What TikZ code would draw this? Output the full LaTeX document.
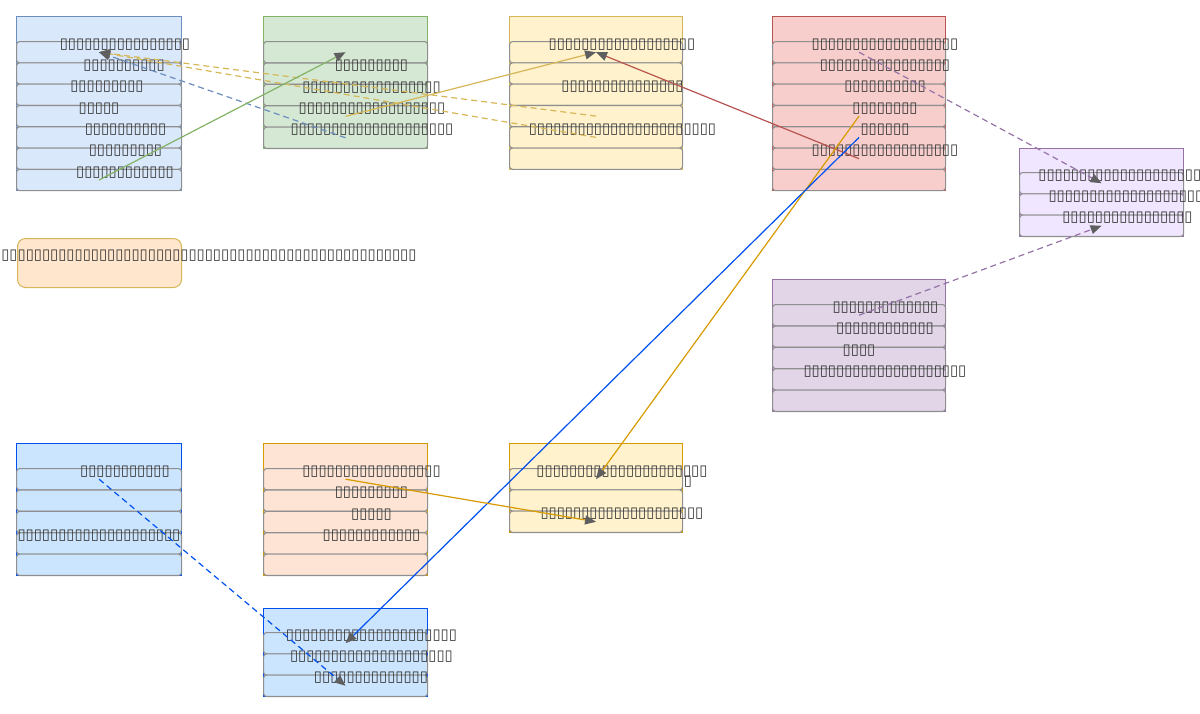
\documentclass[tikz,border=0pt]{standalone}
\usepackage{fontspec}
\newfontfamily\tofu{DejaVu Sans}
\usetikzlibrary{arrows.meta}
\definecolor{txtc}{HTML}{333333}
\definecolor{rowc}{HTML}{8F8F8F}
\definecolor{arrc}{HTML}{5F5F5F}
\definecolor{fA}{HTML}{DAE8FC}\definecolor{sA}{HTML}{6C8EBF}
\definecolor{fB}{HTML}{D5E8D4}\definecolor{sB}{HTML}{82B366}
\definecolor{fC}{HTML}{FFF2CC}\definecolor{sC}{HTML}{D6B656}
\definecolor{fD}{HTML}{F8CECC}\definecolor{sD}{HTML}{B85450}
\definecolor{fE}{HTML}{F0E6FF}\definecolor{sE}{HTML}{9673A6}
\definecolor{fF}{HTML}{FFE6CC}
\definecolor{fG}{HTML}{E1D5E7}
\definecolor{fH}{HTML}{CCE5FF}\definecolor{sH}{HTML}{0050EF}
\definecolor{fI}{HTML}{FDE4D5}\definecolor{sI}{HTML}{D79B00}
\begin{document}
\begin{tikzpicture}[x=1pt,y=-1pt,
  cont/.style={draw=#1, line width=1pt, inner sep=0pt, anchor=north west},
  rowbox/.style={draw=rowc, line width=1.1pt, rounded corners=3pt, inner sep=0pt, anchor=north west, minimum height=21.3pt},
  lbl/.style={font=\tofu\fontsize{14.8}{14.8}\selectfont, text=txtc, inner sep=0pt},
  edge/.style={line width=1.2pt, -{Triangle[length=11pt,width=9pt,color=arrc]}},
  dsh/.style={dash pattern=on 6pt off 4pt}
]
\useasboundingbox (0,0) rectangle (1200,713);
% containers
\node[cont=sA, fill=fA, minimum width=165pt, minimum height=174pt] (A) at (16,16) {};
\foreach \i in {1,...,7} \node[rowbox, fill=fA, minimum width=165pt] (A\i) at (16,{41+21.3*(\i-1)}) {};
\node[cont=sB, fill=fB, minimum width=164pt, minimum height=132pt] (B) at (263,16) {};
\foreach \i in {1,...,5} \node[rowbox, fill=fB, minimum width=164pt] (B\i) at (263,{41+21.4*(\i-1)}) {};
\node[cont=sC, fill=fC, minimum width=173pt, minimum height=153pt] (C) at (509,16) {};
\foreach \i in {1,...,6} \node[rowbox, fill=fC, minimum width=173pt] (C\i) at (509,{41+21.3*(\i-1)}) {};
\node[cont=sD, fill=fD, minimum width=173pt, minimum height=174pt] (D) at (772,16) {};
\foreach \i in {1,...,7} \node[rowbox, fill=fD, minimum width=173pt] (D\i) at (772,{41+21.3*(\i-1)}) {};
\node[cont=sE, fill=fE, minimum width=164pt, minimum height=88pt] (E) at (1019,148) {};
\foreach \i in {1,...,3} \node[rowbox, fill=fE, minimum width=164pt] (E\i) at (1019,{172+21.3*(\i-1)}) {};
\node[draw=sC, line width=1pt, fill=fF, rounded corners=8pt, minimum width=164pt, minimum height=49pt, inner sep=0pt, anchor=north west] (F) at (17,238) {};
\node[cont=sE, fill=fG, minimum width=173pt, minimum height=132pt] (G) at (772,279) {};
\foreach \i in {1,...,5} \node[rowbox, fill=fG, minimum width=173pt] (G\i) at (772,{304+21.4*(\i-1)}) {};
\node[cont=sH, fill=fH, minimum width=165pt, minimum height=132pt] (H) at (16,443) {};
\foreach \i in {1,...,5} \node[rowbox, fill=fH, minimum width=165pt] (H\i) at (16,{468+21.4*(\i-1)}) {};
\node[cont=sI, fill=fI, minimum width=164pt, minimum height=132pt] (I) at (263,443) {};
\foreach \i in {1,...,5} \node[rowbox, fill=fI, minimum width=164pt] (I\i) at (263,{468+21.4*(\i-1)}) {};
\node[cont=sI, fill=fC, minimum width=173pt, minimum height=89pt] (J) at (509,443) {};
\foreach \i in {1,...,3} \node[rowbox, fill=fC, minimum width=173pt] (J\i) at (509,{468+21.3*(\i-1)}) {};
\node[cont=sH, fill=fH, minimum width=164pt, minimum height=88pt] (K) at (263,608) {};
\foreach \i in {1,...,3} \node[rowbox, fill=fH, minimum width=164pt] (K\i) at (263,{632+21.3*(\i-1)}) {};
% labels
\node[lbl] (A1t) at (125,44.5) {▯▯▯▯▯▯▯▯▯▯▯▯▯▯▯▯};
\node[lbl] (A2t) at (124,65.8) {▯▯▯▯▯▯▯▯▯▯};
\node[lbl] (A3t) at (107,87.1) {▯▯▯▯▯▯▯▯▯};
\node[lbl] (A4t) at (99,108.4) {▯▯▯▯▯};
\node[lbl] (A5t) at (125.5,129.7) {▯▯▯▯▯▯▯▯▯▯};
\node[lbl] (A6t) at (125.5,151) {▯▯▯▯▯▯▯▯▯};
\node[lbl] (A7t) at (125,172.3) {▯▯▯▯▯▯▯▯▯▯▯▯};
\node[lbl] (B2t) at (371.5,65.9) {▯▯▯▯▯▯▯▯▯};
\node[lbl] (B3t) at (371.5,87.3) {▯▯▯▯▯▯▯▯▯▯▯▯▯▯▯▯▯};
\node[lbl] (B4t) at (372,108.7) {▯▯▯▯▯▯▯▯▯▯▯▯▯▯▯▯▯▯};
\node[lbl] (B5t) at (372,130.1) {▯▯▯▯▯▯▯▯▯▯▯▯▯▯▯▯▯▯▯▯};
\node[lbl] (C1t) at (622,44.5) {▯▯▯▯▯▯▯▯▯▯▯▯▯▯▯▯▯▯};
\node[lbl] (C3t) at (622.5,87.1) {▯▯▯▯▯▯▯▯▯▯▯▯▯▯▯};
\node[lbl] (C5t) at (622.5,129.7) {▯▯▯▯▯▯▯▯▯▯▯▯▯▯▯▯▯▯▯▯▯▯▯};
\node[lbl] (D1t) at (885,44.5) {▯▯▯▯▯▯▯▯▯▯▯▯▯▯▯▯▯▯};
\node[lbl] (D2t) at (885,65.8) {▯▯▯▯▯▯▯▯▯▯▯▯▯▯▯▯};
\node[lbl] (D3t) at (885,87.1) {▯▯▯▯▯▯▯▯▯▯};
\node[lbl] (D4t) at (885,108.4) {▯▯▯▯▯▯▯▯};
\node[lbl] (D5t) at (885,129.7) {▯▯▯▯▯▯};
\node[lbl] (D6t) at (885,151) {▯▯▯▯▯▯▯▯▯▯▯▯▯▯▯▯▯▯};
\node[lbl] (E1t) at (1128,175.5) {▯▯▯▯▯▯▯▯▯▯▯▯▯▯▯▯▯▯▯▯▯▯};
\node[lbl] (E2t) at (1130,196.8) {▯▯▯▯▯▯▯▯▯▯▯▯▯▯▯▯▯▯▯▯};
\node[lbl] (E3t) at (1127.5,218.1) {▯▯▯▯▯▯▯▯▯▯▯▯▯▯▯▯};
\node[lbl, anchor=east] (Ft) at (417,256) {▯▯▯▯▯▯▯▯▯▯▯▯▯▯▯▯▯▯▯▯▯▯▯▯▯▯▯▯▯▯▯▯▯▯▯▯▯▯▯▯▯▯▯▯▯▯▯▯▯▯▯▯▯▯▯▯▯▯▯▯▯▯▯▯▯▯▯▯▯};
\node[lbl] (G1t) at (885.5,307.5) {▯▯▯▯▯▯▯▯▯▯▯▯▯};
\node[lbl] (G2t) at (885,328.9) {▯▯▯▯▯▯▯▯▯▯▯▯};
\node[lbl] (G3t) at (859,350.3) {▯▯▯▯};
\node[lbl] (G4t) at (885,371.7) {▯▯▯▯▯▯▯▯▯▯▯▯▯▯▯▯▯▯▯▯};
\node[lbl] (H1t) at (125,471.5) {▯▯▯▯▯▯▯▯▯▯▯};
\node[lbl] (H4t) at (99,535.7) {▯▯▯▯▯▯▯▯▯▯▯▯▯▯▯▯▯▯▯▯};
\node[lbl] (I1t) at (371.5,471.5) {▯▯▯▯▯▯▯▯▯▯▯▯▯▯▯▯▯};
\node[lbl] (I2t) at (371.5,492.9) {▯▯▯▯▯▯▯▯▯};
\node[lbl] (I3t) at (371.5,514.3) {▯▯▯▯▯};
\node[lbl] (I4t) at (371.5,535.7) {▯▯▯▯▯▯▯▯▯▯▯▯};
\node[lbl] (J1t) at (622,471.5) {▯▯▯▯▯▯▯▯▯▯▯▯▯▯▯▯▯▯▯▯▯};
\node[lbl] (J1u) at (688,481.5) {▯};
\node[lbl] (J3t) at (622,514.1) {▯▯▯▯▯▯▯▯▯▯▯▯▯▯▯▯▯▯▯▯};
\node[lbl] (K1t) at (371.5,635.5) {▯▯▯▯▯▯▯▯▯▯▯▯▯▯▯▯▯▯▯▯▯};
\node[lbl] (K2t) at (371.5,656.8) {▯▯▯▯▯▯▯▯▯▯▯▯▯▯▯▯▯▯▯▯};
\node[lbl] (K3t) at (371,678.1) {▯▯▯▯▯▯▯▯▯▯▯▯▯▯};
% connectors
\draw[edge, dsh, draw=sC] (C4.center) -- (A1.center);
\draw[edge, dsh, draw=sC] (C5.center) -- (A1.center);
\draw[edge, dsh, draw=sA] (B5.center) -- (A1.center);
\draw[edge, draw=sB] (A7.center) -- (B1.center);
\draw[edge, draw=sC] (B4.center) -- (C1.center);
\draw[edge, draw=sD] (D6.center) -- (C1.center);
\draw[edge, dsh, draw=sE] (D1.center) -- (E1.center);
\draw[edge, dsh, draw=sE] (G1.center) -- (E3.center);
\draw[edge, draw=sI] (D4.center) -- (J1.center);
\draw[edge, draw=sH] (D5.center) -- (K1.center);
\draw[edge, draw=sI] (I1.center) -- (J3.center);
\draw[edge, dsh, draw=sH] (H1.center) -- (K3.center);
\draw[edge, draw=none] ([xshift=-1pt]A4.north) -- (A4.north);
\end{tikzpicture}
\end{document}
